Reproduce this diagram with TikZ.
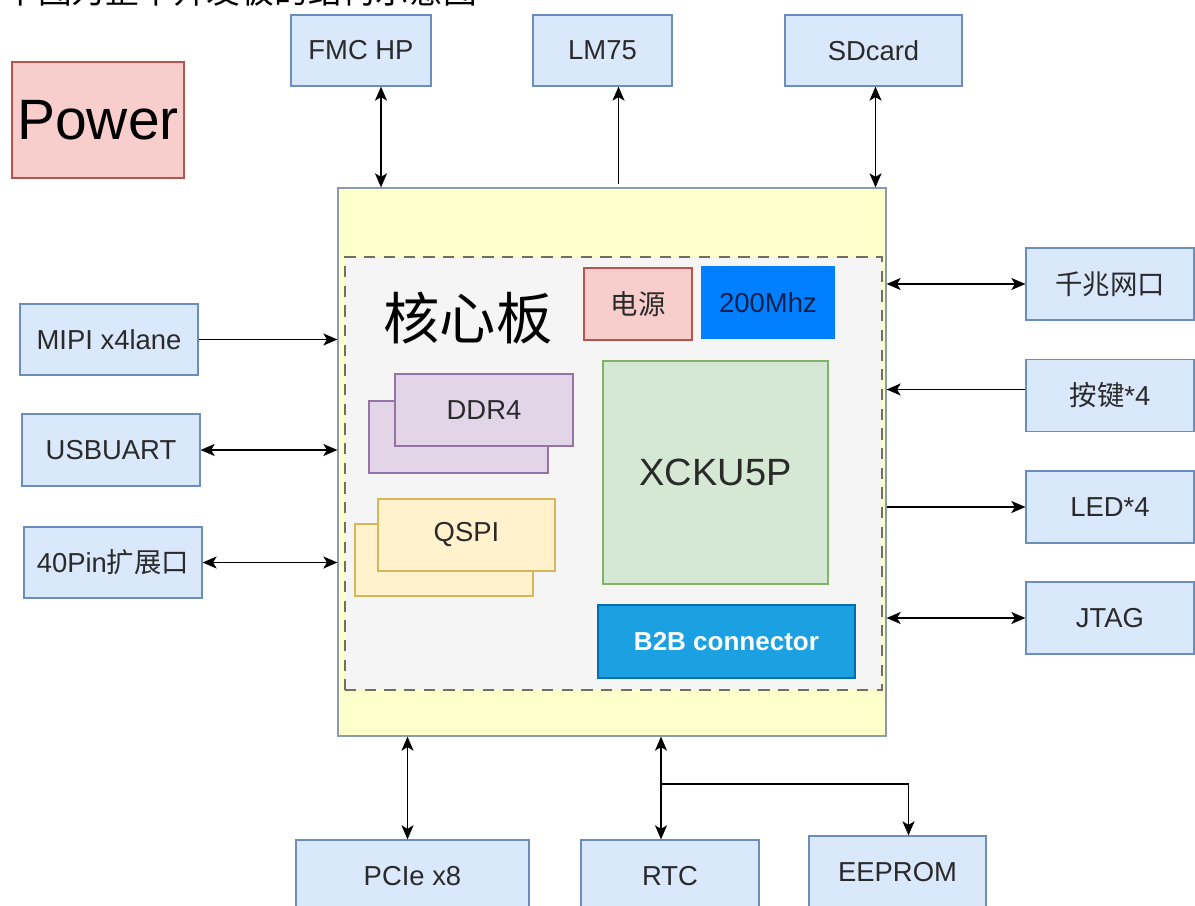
\documentclass[tikz,border=0pt]{standalone}
\usepackage{fontspec}
\setmainfont{Liberation Sans}
\newfontfamily\cjk{Noto Sans CJK SC}
\usepackage{tikz}
\usetikzlibrary{positioning,calc,arrows.meta}

\definecolor{blufill}{HTML}{DAE8FC}
\definecolor{bluline}{HTML}{6C8EBF}
\definecolor{pinkfill}{HTML}{F8CECC}
\definecolor{pinkline}{HTML}{B85450}
\definecolor{yelfill}{HTML}{FFFFCC}
\definecolor{yelline}{HTML}{8C9BAA}
\definecolor{corefill}{HTML}{F5F5F5}
\definecolor{coreline}{HTML}{707060}
\definecolor{ddrfill}{HTML}{E1D5E7}
\definecolor{ddrline}{HTML}{9673A6}
\definecolor{qspifill}{HTML}{FFF2CC}
\definecolor{qspiline}{HTML}{D6B656}
\definecolor{fpgafill}{HTML}{D5E8D4}
\definecolor{fpgaline}{HTML}{82B366}
\definecolor{b2bfill}{HTML}{1BA1E2}
\definecolor{b2bline}{HTML}{006EAF}
\definecolor{oscfill}{HTML}{007FFF}
\definecolor{osctext}{HTML}{10204A}
\definecolor{txtcol}{HTML}{2A2A2A}

\tikzset{
    box/.style={draw, inner sep=0pt, line width=0.8pt, text=txtcol,
        font=\fontsize{19.5}{23}\selectfont},
    sz/.style 2 args={minimum width=#1*0.025cm, minimum height=#2*0.025cm},
    blk/.style={box, fill=blufill, draw=bluline},
    pinkbox/.style={box, fill=pinkfill, draw=pinkline},
    tip/.tip={Stealth[length=10pt, width=8.5pt, inset=2.5pt]},
    arr/.style={-tip, line width=1.4pt},
    biarr/.style={tip-tip, line width=1.4pt}
}

\begin{document}
\begin{tikzpicture}[x=0.025cm, y=-0.025cm]
    \fill[white] (0,0) rectangle (1195,906);
    \useasboundingbox (0,0) rectangle (1195,906);
    \clip (0,0) rectangle (1195,906);

    % heading, cut off at the top
    \node[anchor=west, inner sep=0pt, font=\cjk\fontsize{24}{28}\selectfont] (title) at (4,-9) {下图为整个开发板的结构示意图};

    \node[pinkbox, sz={172}{116}, text=black, font=\fontsize{40.5}{46}\selectfont] (power) at (98,120) {Power};

    % carrier board and core module
    \node[box, sz={548}{548}, fill=yelfill, draw=yelline] (main) at (612,462) {};
    \node[box, sz={537}{433}, fill=corefill, draw=coreline, dash pattern=on 8pt off 6pt] (core) at (613.5,473.5) {};
    \node[text=black, font=\cjk\fontsize{40}{46}\selectfont] (coretxt) at (468,318) {核心板};
    \node[pinkbox, sz={108}{72}, font=\cjk\fontsize{19.5}{23}\selectfont] (pwr) at (638,304) {电源};
    \node[box, sz={132}{71}, fill=oscfill, draw=oscfill, text=osctext] (osc) at (768,302.5) {200Mhz};

    \node[box, sz={179}{72}, fill=ddrfill, draw=ddrline] (ddrb) at (458.5,437) {};
    \node[box, sz={178}{72}, fill=ddrfill, draw=ddrline] (ddr) at (484,410) {DDR4};
    \node[box, sz={178}{72}, fill=qspifill, draw=qspiline] (qspib) at (444,560) {};
    \node[box, sz={177}{72}, fill=qspifill, draw=qspiline] (qspi) at (466.5,535) {QSPI};

    \node[box, sz={225}{223}, fill=fpgafill, draw=fpgaline, font=\fontsize{27}{32}\selectfont] (fpga) at (715.5,472.5) {XCKU5P};
    \node[box, sz={257}{73}, fill=b2bfill, draw=b2bline, text=white, font=\bfseries\fontsize{18.5}{22}\selectfont] (b2b) at (726.5,641.5) {B2B connector};

    % top
    \node[blk, sz={140}{71}] (fmc) at (361,50.5) {FMC HP};
    \node[blk, sz={139}{71}] (lm75) at (602.5,50.5) {LM75};
    \node[blk, sz={177}{71}] (sd) at (873.5,50.5) {SDcard};

    % left
    \node[blk, sz={178}{71}] (mipi) at (109,339.5) {MIPI x4lane};
    \node[blk, sz={178}{72}] (uart) at (111,450) {USBUART};
    \node[blk, sz={178}{71}] (pin40) at (113,562.5) {40Pin{\cjk 扩展口}};

    % right
    \node[blk, sz={168}{72}, font=\cjk\fontsize{19.5}{23}\selectfont] (eth) at (1110,284) {千兆网口};
    \node[blk, sz={168}{72}] (key) at (1110,395.5) {{\cjk 按键}*4};
    \node[blk, sz={168}{72}] (led) at (1110,507) {LED*4};
    \node[blk, sz={168}{72}] (jtag) at (1110,618) {JTAG};

    % bottom
    \node[blk, sz={233}{72}] (pcie) at (412.5,876) {PCIe x8};
    \node[blk, sz={178}{72}] (rtc) at (670,876) {RTC};
    \node[blk, sz={177}{72}] (eeprom) at (897.5,872) {EEPROM};

    % links
    \coordinate (fmcp) at ($(fmc.south)+(20,0)$);
    \draw[biarr] (fmcp) -- (fmcp |- main.north);
    \coordinate (lmp) at ($(lm75.south)+(16,0)$);
    \draw[arr] ($(lmp |- main.north)+(0,-3)$) -- (lmp);
    \coordinate (sdp) at ($(sd.south)+(2,0)$);
    \draw[biarr] (sdp) -- (sdp |- main.north);

    \draw[arr] (mipi.east) -- (mipi.east -| main.west);
    \draw[biarr] (uart.east) -- (uart.east -| main.west);
    \draw[biarr] (pin40.east) -- (pin40.east -| main.west);

    \draw[biarr] (main.east |- eth.west) -- (eth.west);
    \coordinate (keyp) at ($(key.west)+(0,-6)$);
    \draw[arr] (keyp) -- (keyp -| main.east);
    \draw[arr] (main.east |- led.west) -- (led.west);
    \draw[biarr] (main.east |- jtag.west) -- (jtag.west);

    \coordinate (pciep) at ($(pcie.north)+(-5,0)$);
    \draw[biarr] (pciep |- main.south) -- (pciep);
    \coordinate (rtcp) at ($(rtc.north)+(-9,0)$);
    \draw[biarr] (rtcp |- main.south) -- (rtcp);
    \coordinate (branch) at ($(rtcp |- main.south)+(0,47)$);
    \coordinate (eep) at ($(eeprom.north)+(11,0)$);
    \draw[arr] (branch) -| (eep);
\end{tikzpicture}
\end{document}
